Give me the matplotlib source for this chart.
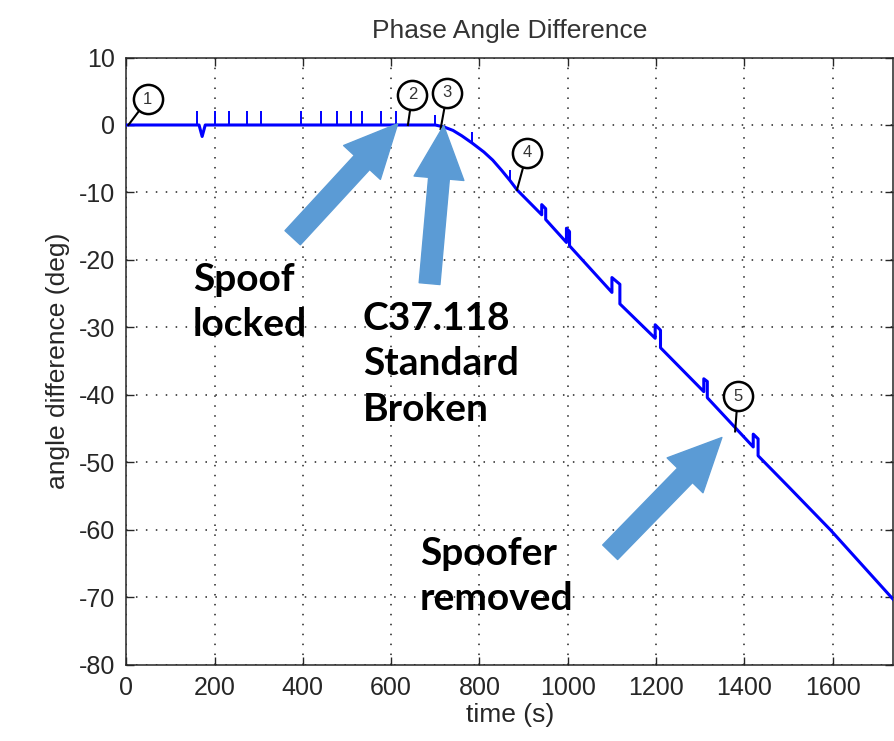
import matplotlib.pyplot as plt
from matplotlib.patches import FancyArrowPatch

# ---- data ----
# main trace: time (s) vs angle difference (deg), step bumps included
time_s = [0, 165, 172, 179, 700, 720, 740, 760, 784, 810, 830, 850, 870, 885,
          941, 941, 950, 950, 997, 997, 1004, 1004,
          1100, 1100, 1118, 1118, 1198, 1198, 1210, 1210,
          1308, 1308, 1316, 1316, 1420, 1420, 1431, 1431,
          1500, 1595, 1740]
angle_deg = [0, 0, -1.7, 0, 0, -0.3, -0.8, -1.6, -2.7, -4.0, -5.2, -6.7, -8.3, -9.6,
             -13.3, -11.8, -12.4, -14.0, -17.4, -15.3, -15.8, -17.9,
             -24.8, -22.6, -23.6, -26.5, -31.6, -29.6, -30.4, -33.0,
             -39.5, -37.6, -38.0, -40.4, -47.7, -45.8, -46.5, -49.0,
             -53.6, -60.0, -70.5]

# short vertical glitches on the trace
spike_t = [160, 200, 232, 273, 305, 395, 441, 477, 509, 535, 576, 610, 700, 784, 870]
spike_lo = [0, 0, 0, 0, 0, 0, 0, 0, 0, 0, 0, 0, 0, -2.7, -8.3]
spike_hi = [2.0, 2.0, 2.0, 2.0, 2.0, 2.0, 2.0, 2.0, 2.0, 2.0, 2.0, 2.0, 1.5, -1.1, -6.6]

# numbered callouts: point on trace -> bubble
callout_lbl = ['1', '2', '3', '4', '5']
callout_tip_t = [5, 638, 712, 885, 1379]
callout_tip_a = [0, 0, -0.6, -9.6, -45.4]
callout_txt_t = [49, 648, 727, 908, 1385]
callout_txt_a = [3.8, 4.5, 4.8, -4.1, -40.2]

xticks = [0, 200, 400, 600, 800, 1000, 1200, 1400, 1600]
yticks = [-80, -70, -60, -50, -40, -30, -20, -10, 0, 10]

# ---- figure ----
plt.rcParams['font.family'] = ['Liberation Sans', 'DejaVu Sans']
plt.rcParams['axes.unicode_minus'] = False
fig = plt.figure(figsize=(8.95, 7.41), dpi=100)
ax = fig.add_axes([0.141, 0.1026, 0.857, 0.8198])

ax.plot(time_s, angle_deg, color='#0000ff', lw=2.2, zorder=3)
ax.vlines(spike_t, spike_lo, spike_hi, color='#0000ff', lw=1.4, zorder=3)

# callout bubbles
for lbl, tt, ta, ct, ca in zip(callout_lbl, callout_tip_t, callout_tip_a,
                               callout_txt_t, callout_txt_a):
    ax.plot([tt, ct], [ta, ca], color='black', lw=1.5, zorder=4)
    ax.plot(ct, ca, marker='o', ms=21, mfc='white', mec='black', mew=1.8, zorder=5)
    ax.text(ct, ca, lbl, ha='center', va='center', fontsize=12,
            color='#333333', zorder=6)

ax.set_xlim(0, 1737)
ax.set_ylim(-80, 10)
ax.set_xticks(xticks)
ax.set_yticks(yticks)
ax.grid(True, color='#222222', linestyle=(0, (1, 5.5)), lw=1.1)
ax.tick_params(direction='in', length=6, top=True, right=True,
               labelsize=18, colors='#262626', pad=8, width=1.0)
for sp in ax.spines.values():
    sp.set_color('#262626')
    sp.set_linewidth(1.1)

ax.set_title('Phase Angle Difference', fontsize=19, color='#333333', pad=14)
ax.set_xlabel('time (s)', fontsize=19, color='#262626', labelpad=2)
ax.set_ylabel('angle difference (deg)', fontsize=19, color='#262626', labelpad=6)

# big blue arrows (tail -> tip, data coords)
arrow_style = 'simple,head_width=3.6,head_length=3.8,tail_width=1.5'
arrows = [((377, -16.7), (615, 0.2)),
          ((687, -23.5), (719, -0.1)),
          ((1096, -63.3), (1349, -46.3))]
for tail, tip in arrows:
    ax.add_patch(FancyArrowPatch(tail, tip, arrowstyle=arrow_style,
                                 mutation_scale=10, color='#5b9bd5',
                                 shrinkA=0, shrinkB=0, zorder=7))

# annotation text
note_kw = dict(fontsize=28, fontweight='bold', family=['Lato', 'DejaVu Sans'],
               color='black', va='top', ha='left', linespacing=1.36)
fig.text(193 / 895, 1 - 262 / 741, 'Spoof\nlocked', **note_kw)
fig.text(363 / 895, 1 - 301 / 741, 'C37.118\nStandard\nBroken', **note_kw)
fig.text(420 / 895, 1 - 536 / 741, 'Spoofer\nremoved', **note_kw)

fig.savefig('out.png', dpi=100)
